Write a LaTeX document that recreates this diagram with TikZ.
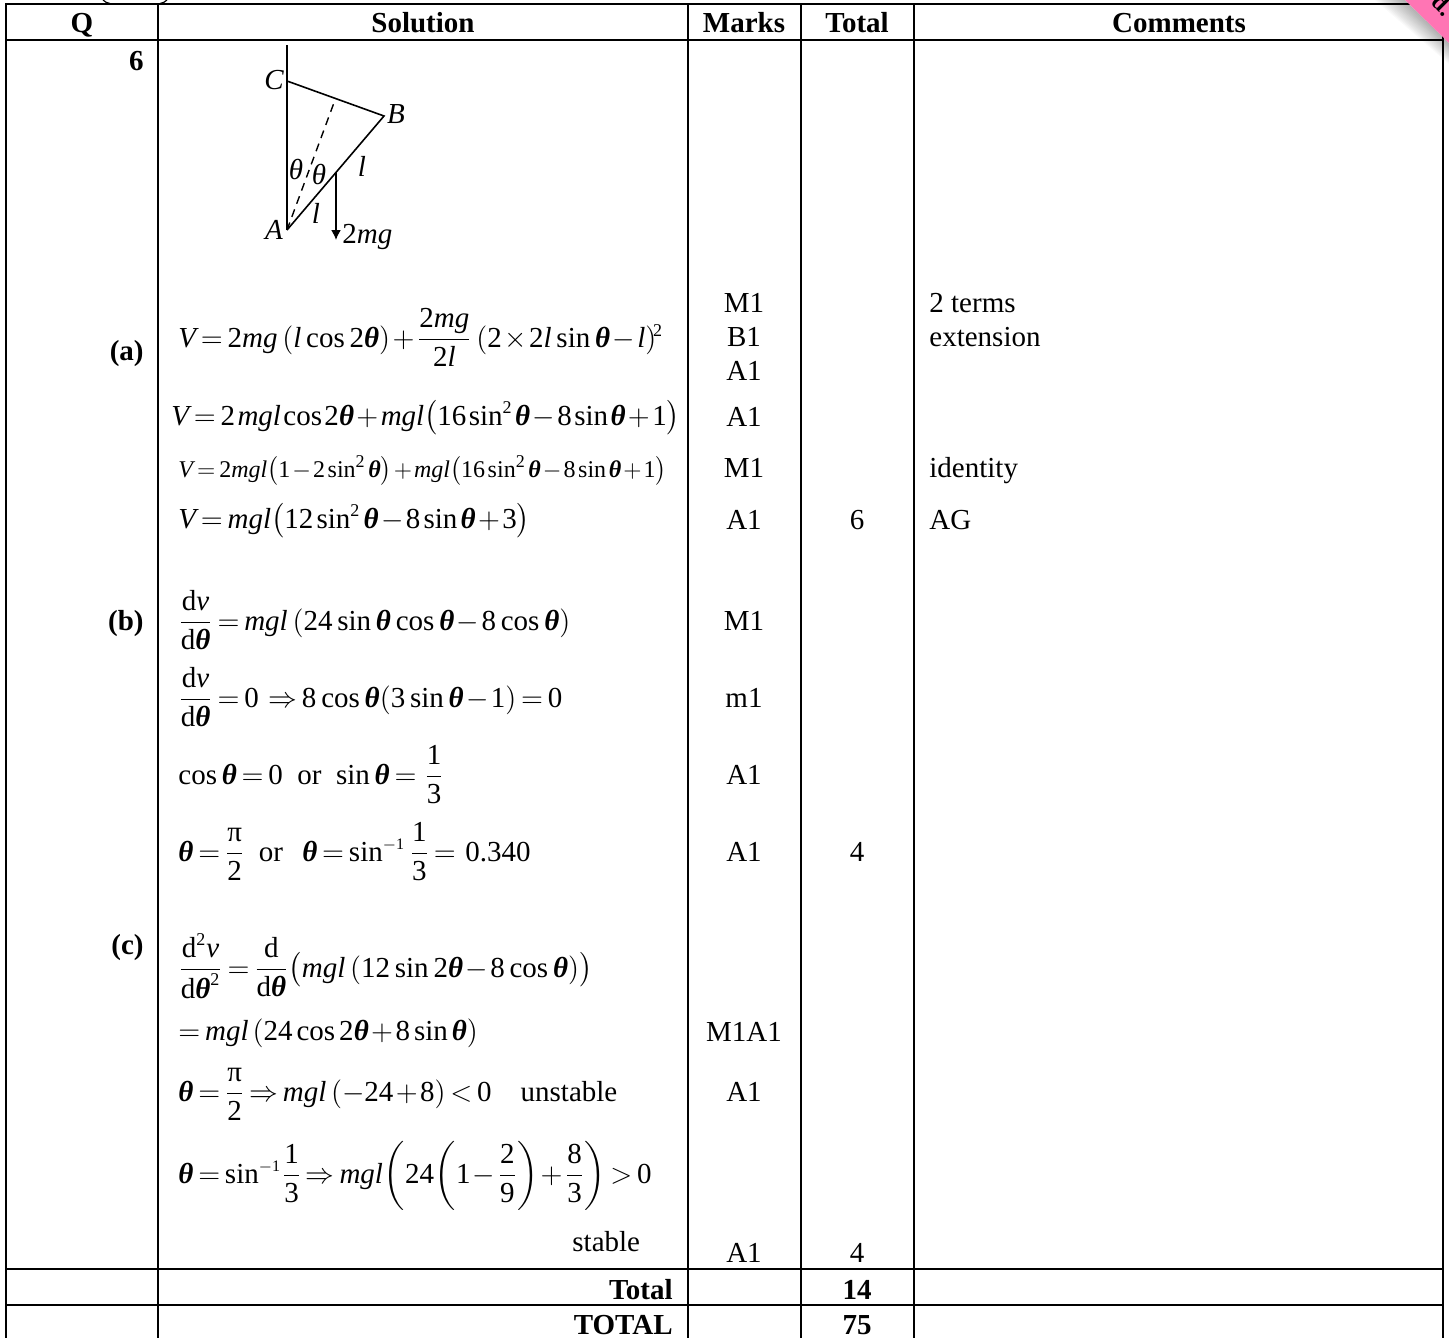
\documentclass[tikz,border=0pt]{standalone}
\usepackage{amsmath}
\usepackage{fontspec}
\usetikzlibrary{arrows.meta}
\setmainfont{Liberation Serif}
\newcommand{\tht}{\mbox{\bfseries\itshape θ}}
\newcommand{\pii}{\mbox{π}}
\newcommand{\mi}[1]{\mbox{\itshape #1}}
\newcommand{\sq}{\mbox{\fontsize{9}{10}\selectfont 2}}
\newcommand{\SIN}{\mbox{sin}\,}
\newcommand{\COS}{\mbox{cos}\,}
\newcommand{\SINS}{\mbox{sin}^{\sq}\,}
\newcommand{\SINI}{\mbox{sin}^{\mbox{\fontsize{8}{9}\selectfont$-$1}}\,}
\newcommand{\dd}{\mbox{d}}
\newcommand{\mm}{\mi{mgl}}
\definecolor{pinkband}{RGB}{255,117,180}
\begin{document}
\begin{tikzpicture}[x=0.5pt,y=-0.5pt,
  rule/.style={line width=1.1pt,black},
  cell/.style={inner sep=0pt,anchor=base,font=\fontsize{14.5}{17}\selectfont},
  head/.style={cell,font=\fontsize{14.5}{17}\selectfont\bfseries},
  part/.style={head,anchor=base east},
  eq/.style={inner sep=0pt,anchor=base west,font=\fontsize{14.5}{17}\selectfont,
    execute at begin node={\thinmuskip=3mu \medmuskip=1.5mu \thickmuskip=3mu}},
  lab/.style={inner sep=0pt,anchor=base,font=\fontsize{14.5}{17}\selectfont\itshape}]
\useasboundingbox (0,0) rectangle (1449,1338);
% corner shadow
\foreach \d in {2,4,...,30}
  \fill[black,opacity=0.025] (1405-\d,0) -- (1405,0) -- (1449,43) -- (1449,43+0.7*\d) -- cycle;
% table
\foreach \y in {4,40,1269,1305} \draw[rule] (5,\y) -- (1444,\y);
\foreach \x in {6,158,688,801,914,1443} \draw[rule] (\x,4) -- (\x,1338);
% corner band
\fill[pinkband] (1405,0) -- (1449,43) -- (1449,0) -- cycle;
\node[inner sep=0pt,rotate=-45,font=\fontsize{12}{14}\selectfont\bfseries] (wm) at (1443,5) {d.};
% cut-off parentheses at the top edge
\draw[line width=0.6pt] (103,0) .. controls (105,2) and (107,3) .. (110,3.5);
\draw[line width=0.6pt] (167,0) .. controls (165,2) and (163,3) .. (160,3.5);
% header
\node[head] (hq) at (82,33) {Q};
\node[head] (hs) at (423,33) {Solution};
\node[head] (hm) at (744,33) {Marks};
\node[head] (ht) at (857,33) {Total};
\node[head] (hc) at (1179,33) {Comments};
\node[part] (q6) at (144,71) {6};
\node[part] (pa) at (144,360) {(a)};
\node[part] (pb) at (144,630) {(b)};
\node[part] (pc) at (144,954) {(c)};
% diagram
\coordinate (A) at (287,230);
\coordinate (Atop) at (287,45);
\coordinate (C) at (287,81);
\coordinate (B) at (384,116);
\coordinate (M) at (335,100);
\coordinate (W) at (336,172);
\coordinate (Wend) at (336,240);
\draw[line width=1pt] (A) -- (Atop);
\draw[line width=0.8pt] (C) -- (B) -- (A);
\draw[line width=0.7pt,dash pattern=on 4pt off 3pt] (A) -- (M);
\draw[line width=0.8pt,-{Latex[length=5pt,width=5pt]}] (W) -- (Wend);
\node[lab] (lc) at (274,90) {C};
\node[lab] (lb) at (396,124) {B};
\node[lab] (la) at (274,239) {A};
\node[lab] (t1) at (296,179) {θ};
\node[lab] (t2) at (319,184) {θ};
\node[lab] (l1) at (362,176) {l};
\node[lab] (l2) at (316,223) {l};
\node[eq] (mg) at (342,243) {2\itshape mg};
% formulas
\node[eq] (e1) at (178,347) {$\mi{V}=\mbox{2}\mi{mg}\,(\mi{l}\,\COS\mbox{2}\tht)+\dfrac{\mbox{2}\mi{mg}}{\mbox{2}\mi{l}}\;(\mbox{2}\times\mbox{2}\mi{l}\,\SIN\tht-\mi{l})^{\!\sq}$};
\node[eq] (e2) at (171,425) {$\thinmuskip=1.5mu\mi{V}=\mbox{2}\,\mm\,\COS\mbox{2}\tht+\mm\bigl(\mbox{16}\,\SINS\tht-\mbox{8}\,\SIN\tht+\mbox{1}\bigr)$};
\node[eq,font=\fontsize{12}{14}\selectfont] (e3) at (178,477) {$\thinmuskip=2mu\mi{V}=\mbox{2}\mm\bigl(\mbox{1}-\mbox{2}\,\SINS\tht\bigr)+\mm\bigl(\mbox{16}\,\SINS\tht-\mbox{8}\,\SIN\tht+\mbox{1}\bigr)$};
\node[eq] (e4) at (178,528) {$\thinmuskip=2mu\mi{V}=\mm\bigl(\mbox{12}\,\SINS\tht-\mbox{8}\,\SIN\tht+\mbox{3}\bigr)$};
\node[eq] (e5) at (178,630) {$\dfrac{\dd\mi{v}}{\dd\tht}=\mm\,(\mbox{24}\,\SIN\tht\,\COS\tht-\mbox{8}\,\COS\tht)$};
\node[eq] (e6) at (178,707) {$\dfrac{\dd\mi{v}}{\dd\tht}=\mbox{0}\;\Rightarrow\mbox{8}\,\COS\tht(\mbox{3}\,\SIN\tht-\mbox{1})=\mbox{0}$};
\node[eq] (e7) at (178,784) {$\COS\tht=\mbox{0}\ \ \mbox{or}\ \ \SIN\tht=\mkern2mu\dfrac{\mbox{1}}{\mbox{3}}$};
\node[eq] (e8) at (178,861) {$\tht=\dfrac{\pii}{\mbox{2}}\ \ \mbox{or}\ \ \mkern3mu\tht=\SINI\dfrac{\mbox{1}}{\mbox{3}}=\mkern3mu\mbox{0.340}$};
\node[eq] (e9) at (178,977) {$\dfrac{\dd^{\sq}\mi{v}}{\dd\tht^{\sq}}=\dfrac{\dd}{\dd\tht}\bigl(\mm\,(\mbox{12}\,\SIN\mbox{2}\tht-\mbox{8}\,\COS\tht)\bigr)$};
\node[eq] (e10) at (178,1040) {$\thinmuskip=2.5mu=\mm\,(\mbox{24}\,\COS\mbox{2}\tht+\mbox{8}\,\SIN\tht)$};
\node[eq] (e11) at (178,1101) {$\tht=\dfrac{\pii}{\mbox{2}}\Rightarrow\mm\,(-\mbox{24}+\mbox{8})<\mbox{0}\quad\mbox{unstable}$};
\node[eq] (e12) at (178,1183) {$\thinmuskip=0.5mu\tht=\SINI\dfrac{\mbox{1}}{\mbox{3}}\Rightarrow\mm\left(\mbox{24}\left(\mbox{1}-\dfrac{\mbox{2}}{\mbox{9}}\right)+\dfrac{\mbox{8}}{\mbox{3}}\right)>\mbox{0}$};
\node[eq] (st) at (572,1251) {stable};
% marks
\foreach \n/\y/\t in {m1/312/M1,m2/346/B1,m3/380/A1,m4/426/A1,m5/477/M1,m6/529/A1,m7/630/M1,m8/707/m1,m9/784/A1,m10/861/A1,m11/1041/M1A1,m12/1101/A1,m13/1262/A1}
  \node[cell] (\n) at (744,\y) {\t};
\foreach \n/\y/\t in {t1x/529/6,t2x/861/4,t3x/1262/4}
  \node[cell] (\n) at (857,\y) {\t};
\node[eq] (c1) at (929,312) {2 terms};
\node[eq] (c2) at (929,346) {extension};
\node[eq] (c3) at (929,477) {identity};
\node[eq] (c4) at (929,529) {AG};
% totals
\node[head,anchor=base east] (tt) at (673,1299) {Total};
\node[head,anchor=base east] (tT) at (673,1334) {TOTAL};
\node[head] (n14) at (857,1299) {14};
\node[head] (n75) at (857,1334) {75};
\end{tikzpicture}
\end{document}
